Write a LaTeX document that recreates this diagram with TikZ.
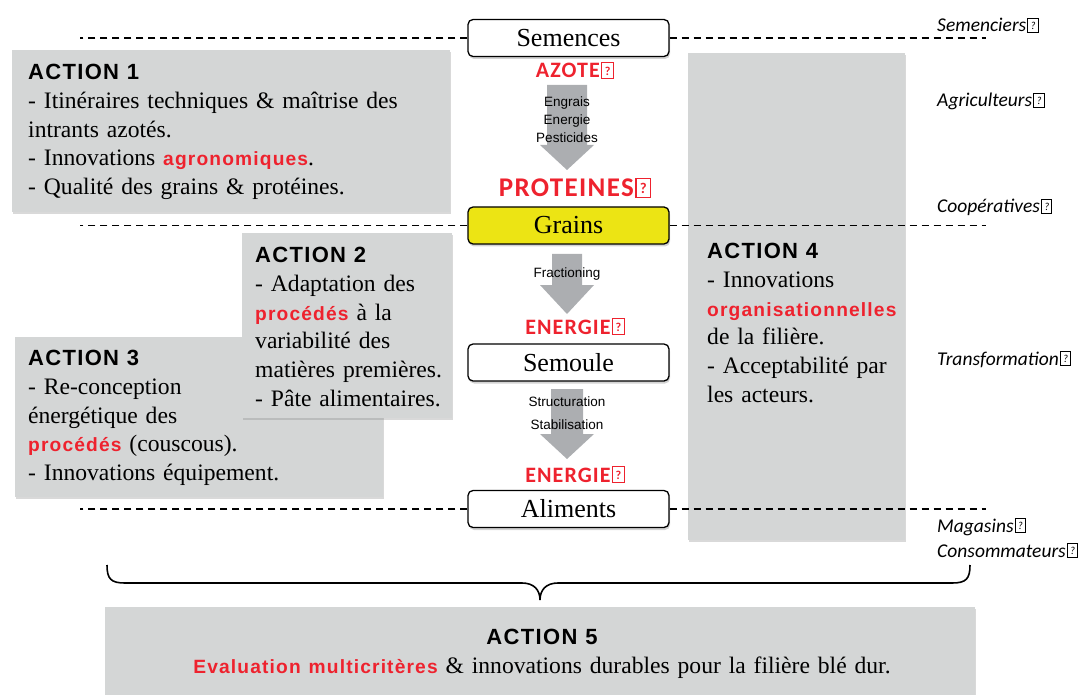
\documentclass[tikz,border=0pt]{standalone}
\usepackage{fontspec}
\usepackage{graphicx}
\setmainfont{Liberation Serif}
\newfontfamily\actfont{Liberation Sans}[LetterSpace=6]
\newfontfamily\keyfont{Carlito}[LetterSpace=5]
\newfontfamily\sidefont{Carlito}
\newfontfamily\arrfont{Liberation Sans}
\usetikzlibrary{shadows,calc}

\definecolor{boxgrey}{RGB}{212,214,214}
\definecolor{keyred}{RGB}{238,34,46}
\definecolor{grainyellow}{RGB}{236,228,20}
\definecolor{arrowgrey}{RGB}{172,174,177}

% missing glyph box, as printed
\newcommand\qbox{\kern0.06em{\setlength\fboxsep{0pt}\setlength\fboxrule{0.05em}\fbox{\makebox[0.48em]{\rule{0pt}{0.66em}\raisebox{0.12em}{\scalebox{0.55}{?}}}}}}
\newcommand\hd[1]{{\actfont\bfseries\fontsize{22}{22}\selectfont #1}}
\newcommand\rd[1]{{\actfont\bfseries\fontsize{19.2}{19.2}\selectfont\color{keyred}#1}}

\begin{document}
\begin{tikzpicture}[x=1pt,y=-1pt,
  actbox/.style={fill=boxgrey, inner sep=0, anchor=north west,
    drop shadow={opacity=0.3, shadow xshift=1pt, shadow yshift=-2pt}},
  acttxt/.style={anchor=north west, inner sep=0, align=left, text width=430,
    font=\fontsize{23.6}{28.8}\selectfont},
  stepbox/.style={draw, line width=1.3pt, rounded corners=5pt, fill=white,
    minimum width=201, minimum height=37, inner sep=0,
    font=\fontsize{26}{26}\selectfont,
    drop shadow={opacity=0.35, shadow xshift=1pt, shadow yshift=-2.5pt}},
  keyw/.style={text=keyred, anchor=base, inner sep=0,
    font=\keyfont\bfseries\fontsize{22}{22}\selectfont},
  arrtxt/.style={anchor=base, inner sep=0, font=\arrfont\fontsize{13.5}{13.5}\selectfont},
  side/.style={anchor=base west, inner sep=0,
    font=\sidefont\itshape\fontsize{19.5}{19.5}\selectfont},
  level/.style={line width=1.1pt, dash pattern=on 7pt off 5pt},
  bracepen/.style={line width=1.6pt}]
\useasboundingbox (0,0) rectangle (1090,695);

% action boxes
\node[actbox, minimum width=438, minimum height=162] (act1) at (12,50) {};
\node[actbox, minimum width=368, minimum height=160] (act3) at (15,337) {};
\node[actbox, minimum width=210, minimum height=185] (act2) at (242,233) {};
\node[actbox, minimum width=217, minimum height=487] (act4) at (688,53) {};
\node[actbox, minimum width=870, minimum height=100] (act5) at (105,607) {};

\node[acttxt] (txt1) at (28,64) {\hd{ACTION 1}\\
- Itinéraires techniques \& maîtrise des\\
intrants azotés.\\
- Innovations \rd{agronomiques}.\\
- Qualité des grains \& protéines.};

\node[acttxt] (txt2) at (255,247) {\hd{ACTION 2}\\
- Adaptation des\\
\rd{procédés} à la\\
variabilité des\\
matières premières.\\
- Pâte alimentaires.};

\node[acttxt] (txt3) at (28,350) {\hd{ACTION 3}\\
- Re-conception\\
énergétique des\\
\rd{procédés} (couscous).\\
- Innovations équipement.};

\node[acttxt] (txt4) at (707,243) {\hd{ACTION 4}\\
- Innovations\\
\rd{organisationnelles}\\
de la filière.\\
- Acceptabilité par\\
les acteurs.};

\node[acttxt, anchor=north, align=center, text width=900] (txt5) at (542,629) {\hd{ACTION 5}\\
\rd{Evaluation multicritères} \& innovations durables pour la filière blé dur.};

% grey flow arrows
\foreach \ytop/\ybase/\ytip/\w in {85/145/170/20, 254/285/314/15, 389/434/459/16}
  \fill[arrowgrey] (567-\w,\ytop) -- (567+\w,\ytop) -- (567+\w,\ybase) -- (594,\ybase)
    -- (567,\ytip) -- (540,\ybase) -- (567-\w,\ybase) -- cycle;

\node[arrtxt] (engr) at (567,107) {Engrais};
\node[arrtxt] (ener) at (567,125) {Energie};
\node[arrtxt] (pest) at (567,143) {Pesticides};
\node[arrtxt] (frac) at (567,277) {Fractioning};
\node[arrtxt] (stru) at (567,406) {Structuration};
\node[arrtxt] (stab) at (567,429) {Stabilisation};

\node[keyw] (azote) at (575,78) {AZOTE\qbox};
\node[keyw, font=\keyfont\bfseries\fontsize{27}{27}\selectfont] (prot) at (575,197) {PROTEINES\qbox};
\node[keyw] (nrj1) at (575,334) {ENERGIE\qbox};
\node[keyw] (nrj2) at (575,482) {ENERGIE\qbox};

% steps of the chain
\node[stepbox] (sem) at (568.5,38) {Semences};
\node[stepbox, fill=grainyellow] (gra) at (568.5,225.5) {Grains};
\node[stepbox] (smo) at (568.5,362.5) {Semoule};
\node[stepbox] (ali) at (568.5,509) {Aliments};

% levels
\coordinate (lvlL) at (80,0);
\coordinate (lvlR) at (986,0);
\foreach \n in {sem,gra,ali} {
  \draw[level] (\n.west) -- (\n.west -| lvlL);
  \draw[level] (\n.east) -- (\n.east -| lvlR);
}

\node[side] (s1) at (937,32) {Semenciers\qbox};
\node[side] (s2) at (937,107) {Agriculteurs\qbox};
\node[side] (s3) at (937,213) {Coopératives\qbox};
\node[side] (s4) at (937,365) {Transformation\qbox};
\node[side] (s5) at (937,532) {Magasins\qbox};
\node[side] (s6) at (937,557) {Consommateurs\qbox};

% brace over action 5
\coordinate (brL) at (107,565);
\coordinate (brR) at (970,565);
\coordinate (brT) at (540,600);
\draw[bracepen] (brL) .. controls ($(brL)+(0,14)$) and ($(brL)+(4,18)$) .. ($(brL)+(18,18)$)
  -- ($(brT)+(-18,-17)$) .. controls ($(brT)+(-6,-17)$) and ($(brT)+(0,-10)$) .. (brT)
  .. controls ($(brT)+(0,-10)$) and ($(brT)+(6,-17)$) .. ($(brT)+(18,-17)$)
  -- ($(brR)+(-18,18)$) .. controls ($(brR)+(-4,18)$) and ($(brR)+(0,14)$) .. (brR);
\end{tikzpicture}
\end{document}
